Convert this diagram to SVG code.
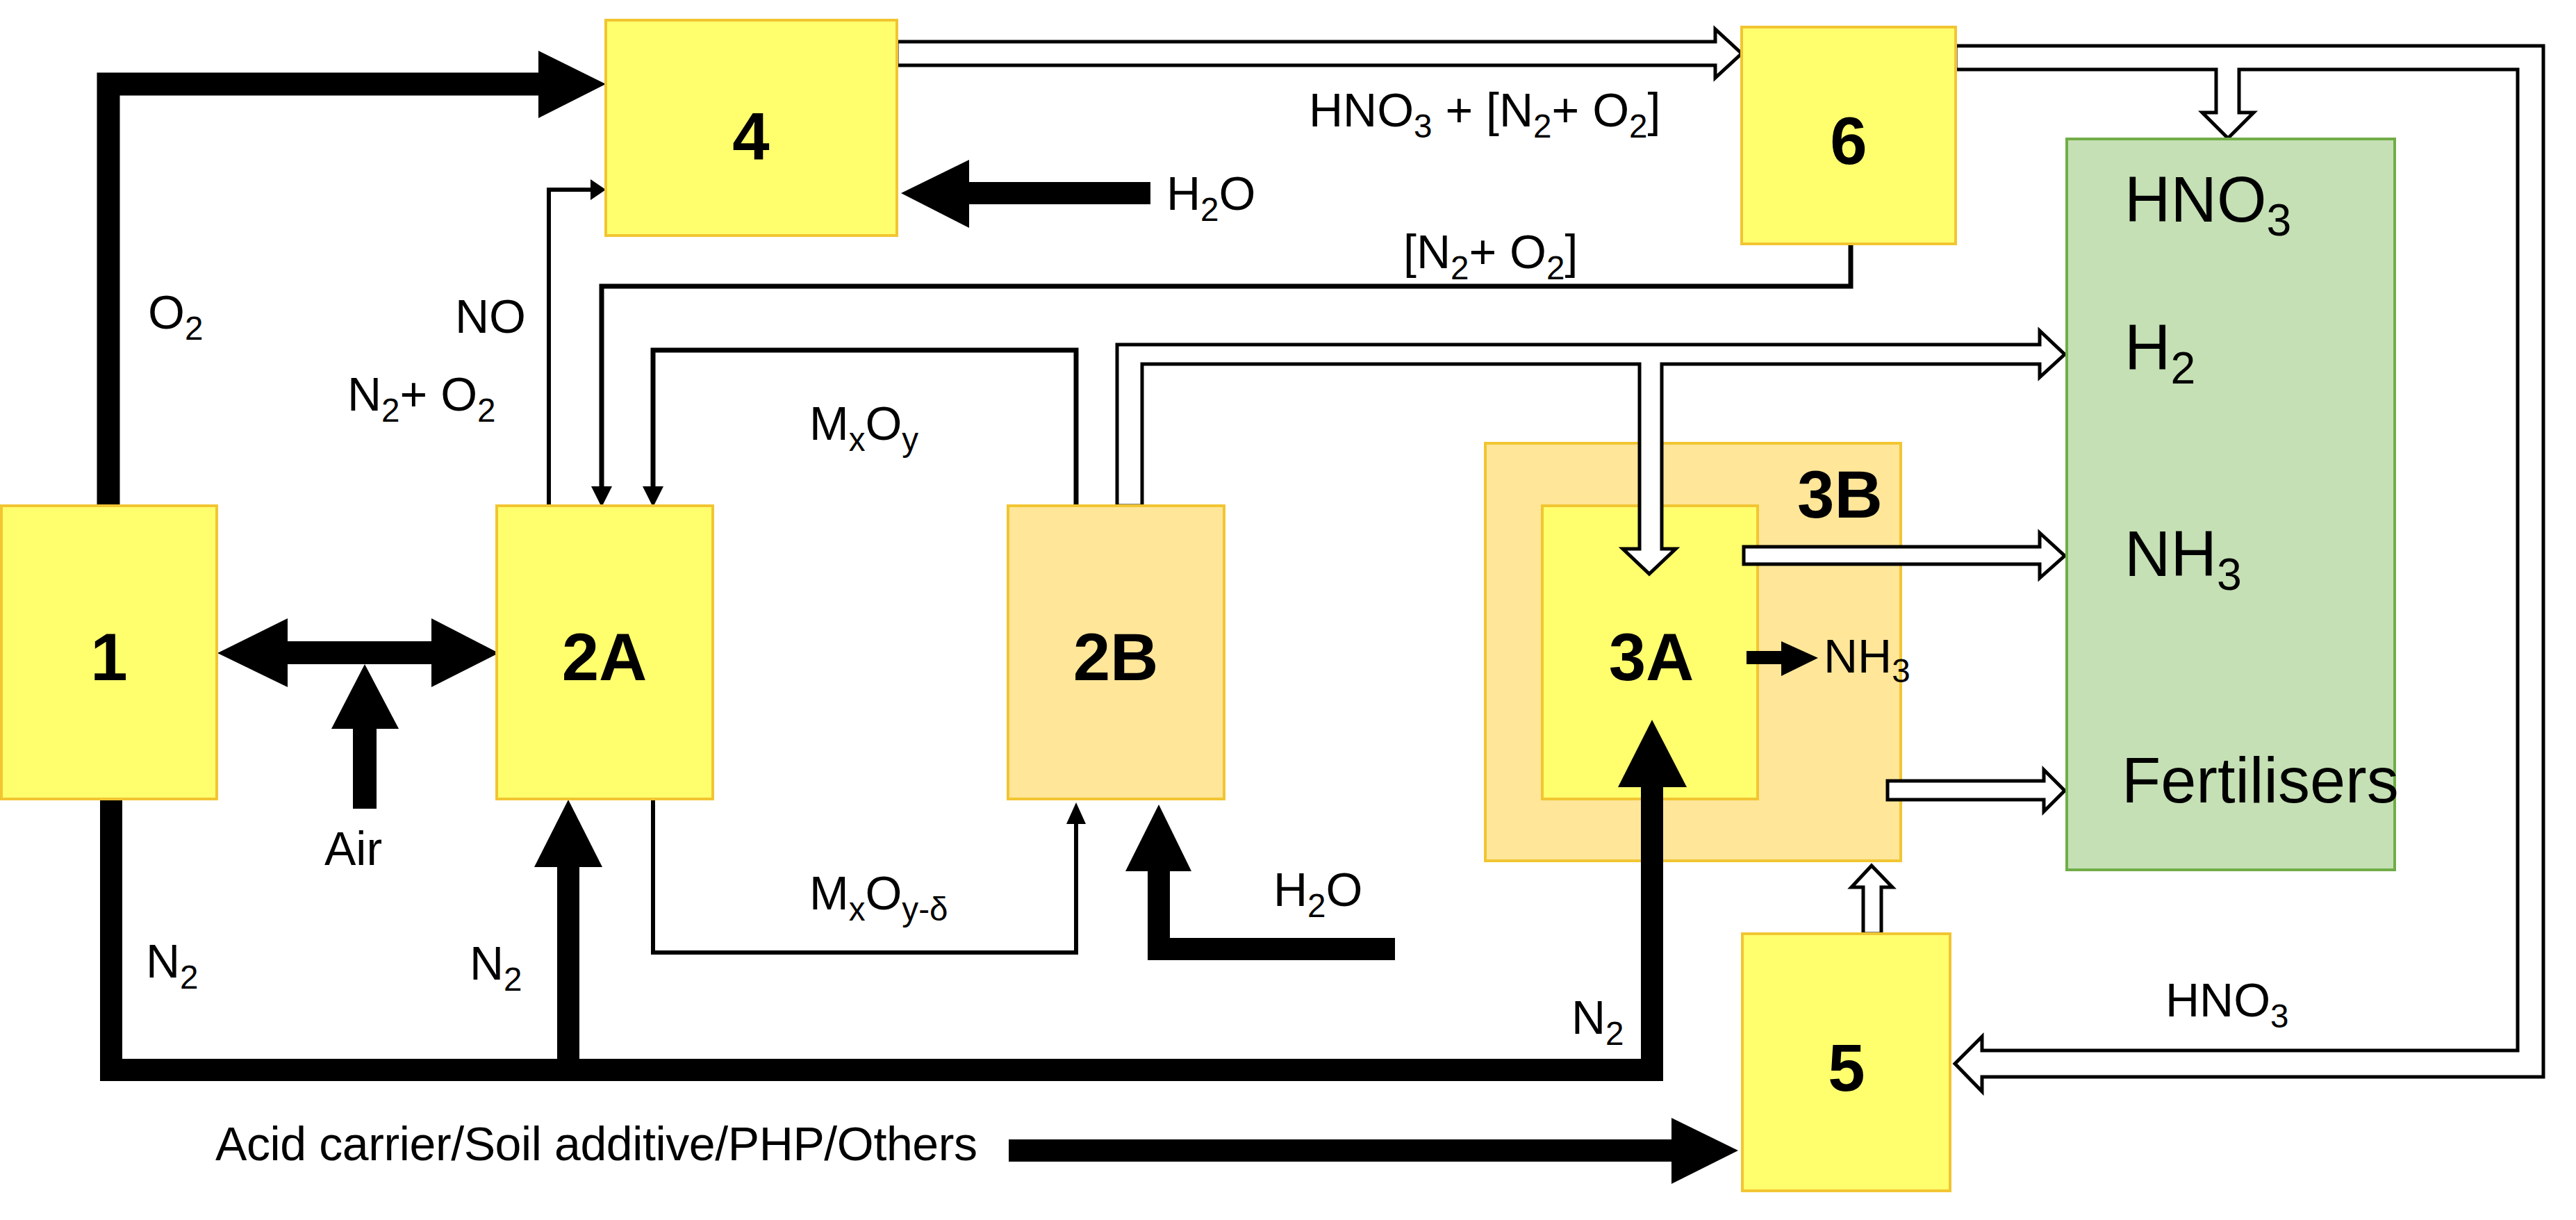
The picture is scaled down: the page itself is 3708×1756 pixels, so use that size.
<svg xmlns="http://www.w3.org/2000/svg" width="3708" height="1756" viewBox="0 0 3708 1756">
<style>
.y{fill:#FFFF6E;stroke:#F2C531;stroke-width:4}
.o{fill:#FFE699;stroke:#F2C531;stroke-width:4}
.g{fill:#C5E0B4;stroke:#70AD47;stroke-width:4}
.b{font-family:"Liberation Sans",Arial,sans-serif;font-weight:bold;font-size:96px;fill:#000}
.t{font-family:"Liberation Sans",Arial,sans-serif;font-size:68px;fill:#000}
.L{font-family:"Liberation Sans",Arial,sans-serif;font-size:92px;fill:#000}
.s{font-size:70%}
.h{fill:#fff;stroke:#000;stroke-width:5}
.k{fill:#000}
.ln{fill:none;stroke:#000}
</style>
<g id="n3B"><rect class="o" x="2138" y="638" width="598" height="601"/><text class="b" x="2587" y="745" font-size="88">3B</text></g>
<g id="n3A"><rect class="y" x="2220" y="728" width="310" height="422"/><text class="b" x="2377" y="979" text-anchor="middle">3A</text></g>
<g id="connectors">
<path class="ln" d="M156 728V121H790" stroke-width="33"/>
<polygon class="k" points="775,73 872,121 775,170"/>
<rect class="k" x="1390" y="262" width="266" height="32"/>
<polygon class="k" points="1395,230 1297,278 1395,328"/>
<path class="ln" d="M790 728V273H852" stroke-width="6"/>
<polygon class="k" points="850,258 872,273 850,288"/>
<path class="ln" d="M2664 351V412H866V702" stroke-width="7"/>
<polygon class="k" points="851,700 866,730 881,700"/>
<path class="ln" d="M1549 728V504H940V702" stroke-width="7"/>
<polygon class="k" points="925,700 940,730 955,700"/>
<path class="ln" d="M940 1150V1371H1549V1183" stroke-width="6"/>
<polygon class="k" points="1535,1186 1549,1155 1563,1186"/>
<rect class="k" x="410" y="923" width="215" height="33"/>
<polygon class="k" points="414,890 313,940 414,989"/>
<polygon class="k" points="621,890 718,940 621,989"/>
<rect class="k" x="508" y="1040" width="34" height="124"/>
<polygon class="k" points="477,1049 525,956 574,1049"/>
<path class="ln" d="M160 1150V1540H2378V1130" stroke-width="32"/>
<polygon class="k" points="2329,1133 2378,1036 2428,1133"/>
<path class="ln" d="M818 1540V1240" stroke-width="32"/>
<polygon class="k" points="769,1248 818,1151 867,1248"/>
<path class="ln" d="M2008 1366H1668V1245" stroke-width="32"/>
<polygon class="k" points="1620,1254 1668,1158 1715,1254"/>
<rect class="k" x="1452" y="1640" width="960" height="32"/>
<polygon class="k" points="2406,1609 2502,1656 2406,1704"/>
<rect class="k" x="2514" y="937" width="54" height="19"/>
<polygon class="k" points="2564,923 2617,947 2564,973"/>
<polygon class="h" points="1291,60 2469,60 2469,42 2507,77 2469,112 2469,94 1291,94"/>
<polygon class="h" points="2815,66 3661,66 3661,1550 2853,1550 2853,1571 2814,1531 2853,1492 2853,1512 3624,1512 3624,100 3223,100 3223,162 3244,162 3207,199 3170,162 3190,162 3190,100 2815,100"/>
<polygon class="h" points="1608,728 1608,496 2936,496 2936,476 2972,510 2936,543 2936,524 2392,524 2392,790 2412,790 2374,826 2336,790 2360,790 2360,524 1644,524 1644,728"/>
<polygon class="h" points="2510,787 2936,787 2936,767 2972,800 2936,832 2936,812 2510,812"/>
<polygon class="h" points="2717,1124 2942,1124 2942,1108 2972,1138 2942,1168 2942,1151 2717,1151"/>
<polygon class="h" points="2682,1344 2682,1277 2665,1277 2694,1246 2724,1277 2708,1277 2708,1344"/>
</g>
<g id="n1"><rect class="y" x="2" y="728" width="310" height="422"/><text class="b" x="157" y="979" text-anchor="middle">1</text></g>
<g id="n2A"><rect class="y" x="715" y="728" width="311" height="422"/><text class="b" x="870" y="979" text-anchor="middle">2A</text></g>
<g id="n2B"><rect class="o" x="1451" y="728" width="311" height="422"/><text class="b" x="1606" y="979" text-anchor="middle">2B</text></g>
<g id="n4"><rect class="y" x="872" y="29" width="419" height="310"/><text class="b" x="1081" y="230" text-anchor="middle">4</text></g>
<g id="n6"><rect class="y" x="2507" y="39" width="308" height="312"/><text class="b" x="2661" y="236" text-anchor="middle">6</text></g>
<g id="n5"><rect class="y" x="2508" y="1344" width="299" height="370"/><text class="b" x="2658" y="1570" text-anchor="middle">5</text></g>
<g id="products"><rect class="g" x="2975" y="200" width="472" height="1052"/>
<text class="L" x="3058" y="319">HNO<tspan class="s" dy="20">3</tspan></text>
<text class="L" x="3058" y="532">H<tspan class="s" dy="20">2</tspan></text>
<text class="L" x="3058" y="829">NH<tspan class="s" dy="20">3</tspan></text>
<text class="L" x="3054" y="1155" font-size="80">Fertilisers</text>
</g>
<g id="labels">
<text class="t" x="213" y="473">O<tspan class="s" dy="16">2</tspan></text>
<text class="t" x="655" y="479">NO</text>
<text class="t" x="500" y="591">N<tspan class="s" dy="16">2</tspan><tspan dy="-16">+ O</tspan><tspan class="s" dy="16">2</tspan></text>
<text class="t" x="1679" y="302">H<tspan class="s" dy="16">2</tspan><tspan dy="-16">O</tspan></text>
<text class="t" x="1884" y="182">HNO<tspan class="s" dy="16">3</tspan><tspan dy="-16"> + [N</tspan><tspan class="s" dy="16">2</tspan><tspan dy="-16">+ O</tspan><tspan class="s" dy="16">2</tspan><tspan dy="-16">]</tspan></text>
<text class="t" x="2020" y="386">[N<tspan class="s" dy="16">2</tspan><tspan dy="-16">+ O</tspan><tspan class="s" dy="16">2</tspan><tspan dy="-16">]</tspan></text>
<text class="t" x="1165" y="633">M<tspan class="s" dy="16">x</tspan><tspan dy="-16">O</tspan><tspan class="s" dy="16">y</tspan></text>
<text class="t" x="1165" y="1309">M<tspan class="s" dy="16">x</tspan><tspan dy="-16">O</tspan><tspan class="s" dy="16">y-δ</tspan></text>
<text class="t" x="467" y="1245">Air</text>
<text class="t" x="210" y="1407">N<tspan class="s" dy="16">2</tspan></text>
<text class="t" x="676" y="1410">N<tspan class="s" dy="16">2</tspan></text>
<text class="t" x="2262" y="1488">N<tspan class="s" dy="16">2</tspan></text>
<text class="t" x="1833" y="1304">H<tspan class="s" dy="16">2</tspan><tspan dy="-16">O</tspan></text>
<text class="t" x="2625" y="968" font-size="56">NH<tspan class="s" dy="14">3</tspan></text>
<text class="t" x="3117" y="1463">HNO<tspan class="s" dy="16">3</tspan></text>
<text class="t" x="310" y="1670" textLength="1097">Acid carrier/Soil additive/PHP/Others</text>
</g>
</svg>
